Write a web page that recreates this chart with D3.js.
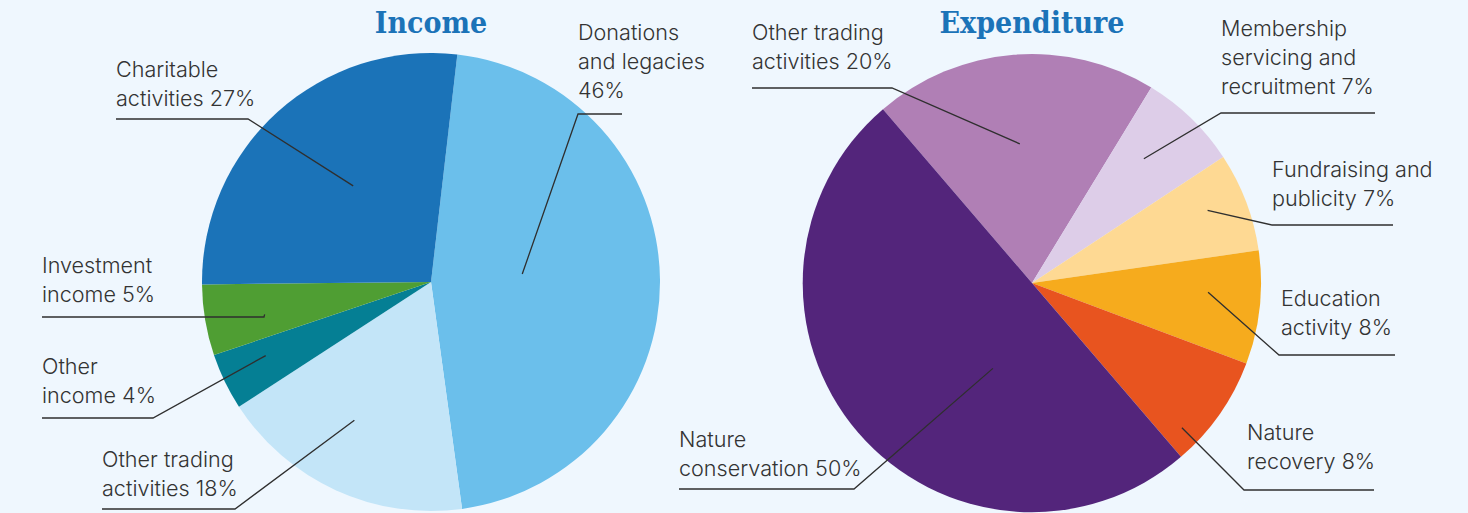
<!DOCTYPE html>
<html>
<head>
<meta charset="utf-8">
<script src="https://cdn.jsdelivr.net/npm/d3@7"></script>
<style>
  html, body { margin: 0; padding: 0; background: #eff7fe; }
  svg { display: block; }
</style>
</head>
<body>
<svg id="chart"></svg>
<script>
// canvas
const width = 1468;
const height = 513;

// Income data
const incomeLabels = [
  ['Donations', 'and legacies', '46%'],
  ['Other trading', 'activities 18%'],
  ['Other', 'income 4%'],
  ['Investment', 'income 5%'],
  ['Charitable', 'activities 27%']
];
const incomeValues = [46, 18, 4, 5, 27];
const incomeColors = ['#6bbfeb', '#c3e5f8', '#057f94', '#4f9e33', '#1b73b8'];

// Expenditure data
const expenditureLabels = [
  ['Other trading', 'activities 20%'],
  ['Membership', 'servicing and', 'recruitment 7%'],
  ['Fundraising and', 'publicity 7%'],
  ['Education', 'activity 8%'],
  ['Nature', 'recovery 8%'],
  ['Nature', 'conservation 50%']
];
const expenditureValues = [20, 7, 7, 8, 8, 50];
const expenditureColors = ['#b07fb5', '#ddcde8', '#fed993', '#f6ab1d', '#e8541f', '#53257b'];

// label layout, relative to the pie centre
// tx/ty: text start, ly: leader y, x1/x2: horizontal part, ex: elbow x, a/k: anchor angle (deg) and radius fraction
const incomeLayout = [
  {tx: 147, ty: -242, ly: -168, x1: 147, x2: 191, ex: 147, a: 85, k: 0.40},
  {tx: -329, ty: 185, ly: 227, x1: -329, x2: -196, ex: -196, a: 209, k: 0.69},
  {tx: -389, ty: 92, ly: 136, x1: -389, x2: -278, ex: -278, a: 246, k: 0.79},
  {tx: -389, ty: -9, ly: 35, x1: -389, x2: -167, ex: -167, a: 259, k: 0.74},
  {tx: -315, ty: -205, ly: -163, x1: -315, x2: -183, ex: -183, a: 321, k: 0.54}
];
const expenditureLayout = [
  {tx: -280, ty: -243, ly: -195, x1: -280, x2: -140, ex: -140, a: 355, k: 0.61},
  {tx: 189, ty: -247, ly: -170, x1: 189, x2: 343, ex: 189, a: 42, k: 0.73},
  {tx: 240, ty: -106, ly: -58, x1: 240, x2: 361, ex: 240, a: 67.5, k: 0.83},
  {tx: 249, ty: 23, ly: 72, x1: 247, x2: 363, ex: 247, a: 93, k: 0.77},
  {tx: 215, ty: 157, ly: 207, x1: 212, x2: 342, ex: 212, a: 134, k: 0.91},
  {tx: -353, ty: 164, ly: 206, x1: -353, x2: -178, ex: -178, a: 204.6, k: 0.41}
];

const svg = d3.select('svg#chart').attr('width', width).attr('height', height);
svg.append('rect').attr('width', width).attr('height', height).attr('fill', '#eff7fe');

function drawPie(opts) {
    const g = svg.append('g').attr('transform', `translate(${opts.cx},${opts.cy})`);
    const pie = d3.pie().sort(null)
        .startAngle(opts.start * Math.PI / 180)
        .endAngle(opts.start * Math.PI / 180 + 2 * Math.PI);
    const arc = d3.arc().innerRadius(0).outerRadius(opts.r);
    const arcs = pie(opts.values);

    g.selectAll('path.slice')
        .data(arcs)
        .enter().append('path')
        .attr('class', 'slice')
        .attr('d', arc)
        .attr('fill', (d, i) => opts.colors[i]);

    // title
    g.append('text')
        .attr('x', 0)
        .attr('y', opts.titleY)
        .attr('text-anchor', 'middle')
        .attr('font-family', '"DejaVu Serif Condensed", "DejaVu Serif", serif')
        .attr('font-stretch', 'condensed')
        .attr('font-weight', 'bold')
        .attr('font-size', 30)
        .attr('fill', '#1b73b8')
        .text(opts.title);

    // leader lines
    g.selectAll('path.leader')
        .data(opts.layout)
        .enter().append('path')
        .attr('class', 'leader')
        .attr('fill', 'none')
        .attr('stroke', '#2f2f2f')
        .attr('stroke-width', 1.3)
        .attr('d', d => {
            const ang = d.a * Math.PI / 180;
            const ax = Math.sin(ang) * opts.r * d.k;
            const ay = -Math.cos(ang) * opts.r * d.k;
            const other = d.ex === d.x1 ? d.x2 : d.x1;
            return `M${other},${d.ly}L${d.ex},${d.ly}L${ax},${ay}`;
        });

    // labels
    const lab = g.selectAll('text.label')
        .data(opts.layout)
        .enter().append('text')
        .attr('class', 'label')
        .attr('font-family', 'Inter, "Noto Sans", sans-serif')
        .attr('font-weight', 300)
        .attr('font-size', 21.6)
        .attr('fill', '#333');
    lab.selectAll('tspan')
        .data((d, i) => opts.labels[i].map(t => ({t, d})))
        .enter().append('tspan')
        .attr('x', o => o.d.tx)
        .attr('y', (o, j) => o.d.ty + j * 28.8)
        .text(o => o.t);
}

drawPie({cx: 431, cy: 282, r: 229, start: 6.6, values: incomeValues, colors: incomeColors,
         labels: incomeLabels, layout: incomeLayout, title: 'Income', titleY: -249});
drawPie({cx: 1032, cy: 283, r: 229, start: -40.6, values: expenditureValues, colors: expenditureColors,
         labels: expenditureLabels, layout: expenditureLayout, title: 'Expenditure', titleY: -250});
</script>
</body>
</html>
